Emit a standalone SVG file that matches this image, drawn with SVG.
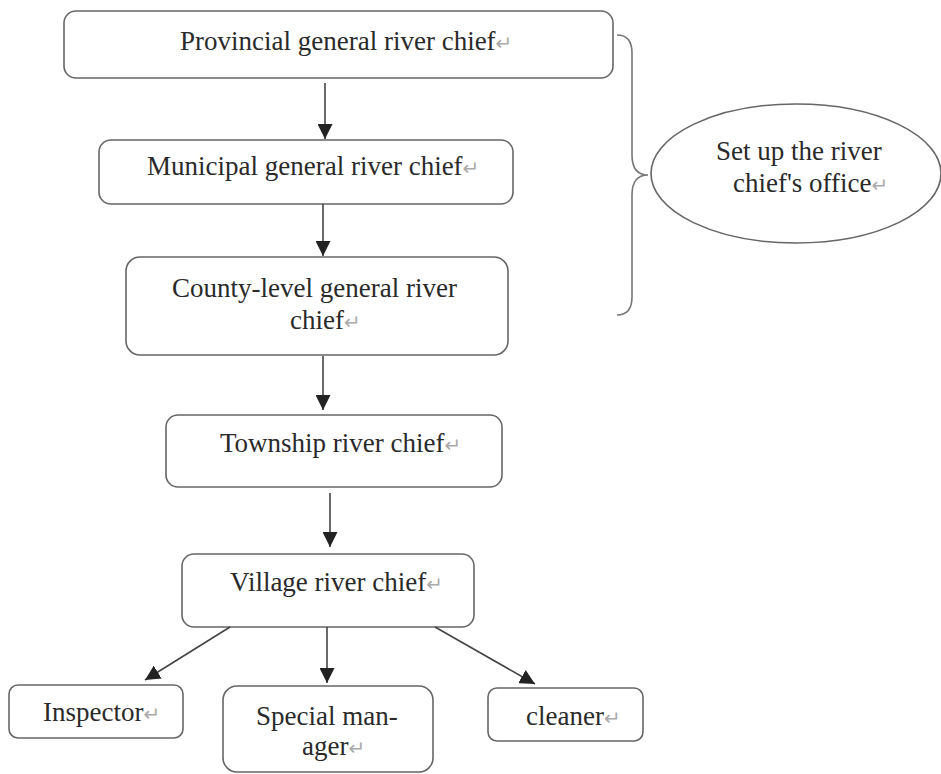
<svg xmlns="http://www.w3.org/2000/svg" width="941" height="774" viewBox="0 0 941 774">
<defs>
<style>
.box{fill:#fff;stroke:#666;stroke-width:1.6}
.t{font-family:"Liberation Serif","DejaVu Serif",serif;font-size:27px;fill:#2a2a2a}
.pm{fill:#aaa;font-family:"DejaVu Sans","Liberation Serif",sans-serif;font-size:20px}
.con line{stroke:#444;stroke-width:1.6;marker-end:url(#ah)}
.brace{fill:none;stroke:#777;stroke-width:1.6}
</style>
<marker id="ah" viewBox="0 0 10 10" refX="10" refY="5" markerWidth="15" markerHeight="15" markerUnits="userSpaceOnUse" orient="auto">
<path d="M0,0 L10,5 L0,10 z" fill="#222"/>
</marker>
</defs>
<rect width="941" height="774" fill="#fff"/>
<g id="provincial">
<rect class="box" x="64" y="11" width="549" height="67" rx="12"/>
<text class="t" x="180" y="50">Provincial general river chief<tspan class="pm">↵</tspan></text>
</g>
<g id="municipal">
<rect class="box" x="99" y="140" width="414" height="64" rx="12"/>
<text class="t" x="147" y="175">Municipal general river chief<tspan class="pm">↵</tspan></text>
</g>
<g id="county">
<rect class="box" x="126" y="257" width="382" height="98" rx="14"/>
<text class="t" x="172" y="297">County-level general river</text>
<text class="t" x="290" y="329">chief<tspan class="pm">↵</tspan></text>
</g>
<g id="township">
<rect class="box" x="166" y="415" width="336" height="72" rx="12"/>
<text class="t" x="220" y="452">Township river chief<tspan class="pm">↵</tspan></text>
</g>
<g id="village">
<rect class="box" x="182" y="554" width="292" height="73" rx="12"/>
<text class="t" x="230" y="591">Village river chief<tspan class="pm">↵</tspan></text>
</g>
<g id="inspector">
<rect class="box" x="9" y="685" width="174" height="53" rx="9"/>
<text class="t" x="43" y="721">Inspector<tspan class="pm">↵</tspan></text>
</g>
<g id="special-manager">
<rect class="box" x="223" y="686" width="210" height="86" rx="14"/>
<text class="t" x="256" y="725">Special man-</text>
<text class="t" x="302" y="755">ager<tspan class="pm">↵</tspan></text>
</g>
<g id="cleaner">
<rect class="box" x="488" y="688" width="155" height="53" rx="9"/>
<text class="t" x="526" y="725">cleaner<tspan class="pm">↵</tspan></text>
</g>
<g id="office">
<path class="brace" d="M617,35 Q632,35 632,53 L632,155 Q632,175 648,175 Q632,175 632,195 L632,297 Q632,315 617,315"/>
<ellipse class="box" cx="796" cy="173.5" rx="145" ry="69.5"/>
<text class="t" x="716" y="160">Set up the river</text>
<text class="t" x="733" y="192">chief's office<tspan class="pm">↵</tspan></text>
</g>
<g id="connectors" class="con">
<line x1="325" y1="83" x2="325" y2="139"/>
<line x1="323" y1="204" x2="323" y2="256"/>
<line x1="323" y1="356" x2="323" y2="410"/>
<line x1="330" y1="493" x2="330" y2="547"/>
<line x1="230" y1="627" x2="145" y2="680"/>
<line x1="327" y1="627" x2="327" y2="683"/>
<line x1="435" y1="627" x2="535" y2="684"/>
</g>
</svg>
